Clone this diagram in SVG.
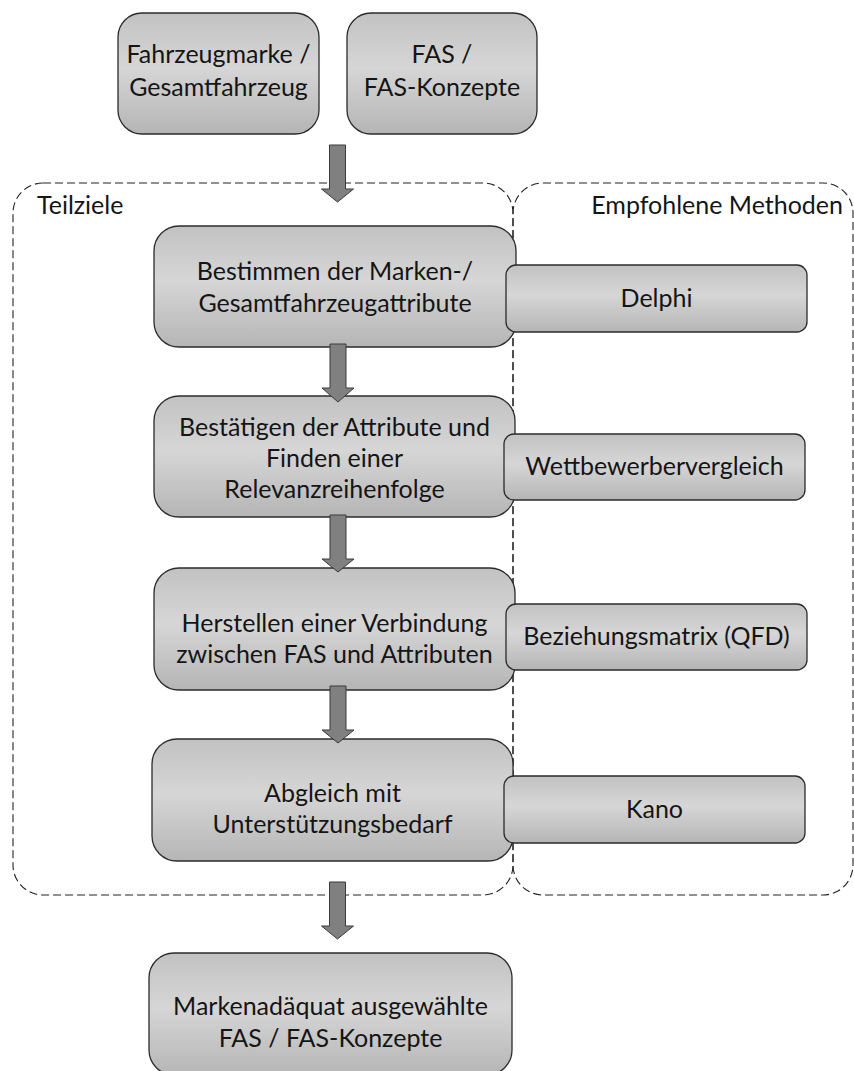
<svg xmlns="http://www.w3.org/2000/svg" width="854" height="1071" viewBox="0 0 854 1071">
<defs>
<linearGradient id="g" x1="0" y1="0" x2="0" y2="1">
<stop offset="0" stop-color="#c2c2c2"/>
<stop offset="0.45" stop-color="#d6d6d6"/>
<stop offset="1" stop-color="#b5b5b5"/>
</linearGradient>
<style>
.box{fill:url(#g);stroke:#2b2b2b;stroke-width:1.3}
.cont{fill:none;stroke:#222;stroke-width:1.1;stroke-dasharray:8 4}
.t{font-family:Lato,"Liberation Sans",sans-serif;font-size:25px;fill:#151515;text-anchor:middle}
.arr{fill:#808080;stroke:#3a3a3a;stroke-width:1}
</style>
</defs>
<rect width="854" height="1071" fill="#fff"/>
<g id="containers">
<rect id="teilziele" class="cont" x="13" y="183" width="500" height="712" rx="30"/>
<rect id="methoden" class="cont" x="513" y="183" width="340" height="712" rx="30"/>
<text class="t" x="37" y="214" style="text-anchor:start">Teilziele</text>
<text class="t" x="843" y="214" style="text-anchor:end">Empfohlene Methoden</text>
</g>
<g id="n_marke"><rect class="box" x="118" y="13" width="201" height="121" rx="24"/>
<text class="t" x="218.5" y="63">Fahrzeugmarke /</text><text class="t" x="218.5" y="96">Gesamtfahrzeug</text></g>
<g id="n_fas"><rect class="box" x="347" y="13" width="190" height="121" rx="24"/>
<text class="t" x="442" y="63">FAS /</text><text class="t" x="442" y="96">FAS-Konzepte</text></g>
<g id="n_bestimmen"><rect class="box" x="154" y="226" width="362" height="121" rx="25"/>
<text class="t" x="335" y="280">Bestimmen der Marken-/</text><text class="t" x="335" y="312">Gesamtfahrzeugattribute</text></g>
<g id="n_bestaetigen"><rect class="box" x="154" y="396" width="361" height="121" rx="25"/>
<text class="t" x="334.5" y="436">Bestätigen der Attribute und</text><text class="t" x="334.5" y="467">Finden einer</text><text class="t" x="334.5" y="498">Relevanzreihenfolge</text></g>
<g id="n_herstellen"><rect class="box" x="154" y="568" width="361" height="122" rx="25"/>
<text class="t" x="334.5" y="632">Herstellen einer Verbindung</text><text class="t" x="334.5" y="663">zwischen FAS und Attributen</text></g>
<g id="n_abgleich"><rect class="box" x="152" y="739" width="361" height="122" rx="25"/>
<text class="t" x="332.5" y="802">Abgleich mit</text><text class="t" x="332.5" y="833">Unterstützungsbedarf</text></g>
<g id="n_ergebnis"><rect class="box" x="149" y="953" width="363" height="122" rx="25"/>
<text class="t" x="330.5" y="1015">Markenadäquat ausgewählte</text><text class="t" x="330.5" y="1047">FAS / FAS-Konzepte</text></g>
<g id="m_delphi"><rect class="box" x="506" y="265" width="301" height="67" rx="10"/>
<text class="t" x="656.5" y="307">Delphi</text></g>
<g id="m_wettbewerb"><rect class="box" x="504" y="434" width="301" height="66" rx="10"/>
<text class="t" x="654.5" y="475">Wettbewerbervergleich</text></g>
<g id="m_qfd"><rect class="box" x="506" y="604" width="301" height="66" rx="10"/>
<text class="t" x="656.5" y="645">Beziehungsmatrix (QFD)</text></g>
<g id="m_kano"><rect class="box" x="504" y="776" width="301" height="67" rx="10"/>
<text class="t" x="654.5" y="818">Kano</text></g>
<g id="connectors">
<path class="arr" d="M329.5 145h16v44h8l-16 13l-16 -13h8z"/>
<path class="arr" d="M330 344h16v44h8l-16 14l-16 -14h8z"/>
<path class="arr" d="M330 515h16v44h8l-16 13l-16 -13h8z"/>
<path class="arr" d="M330 686h16v44h8l-16 13l-16 -13h8z"/>
<path class="arr" d="M329.5 882h16v44h8l-16 13l-16 -13h8z"/>
</g>
</svg>
